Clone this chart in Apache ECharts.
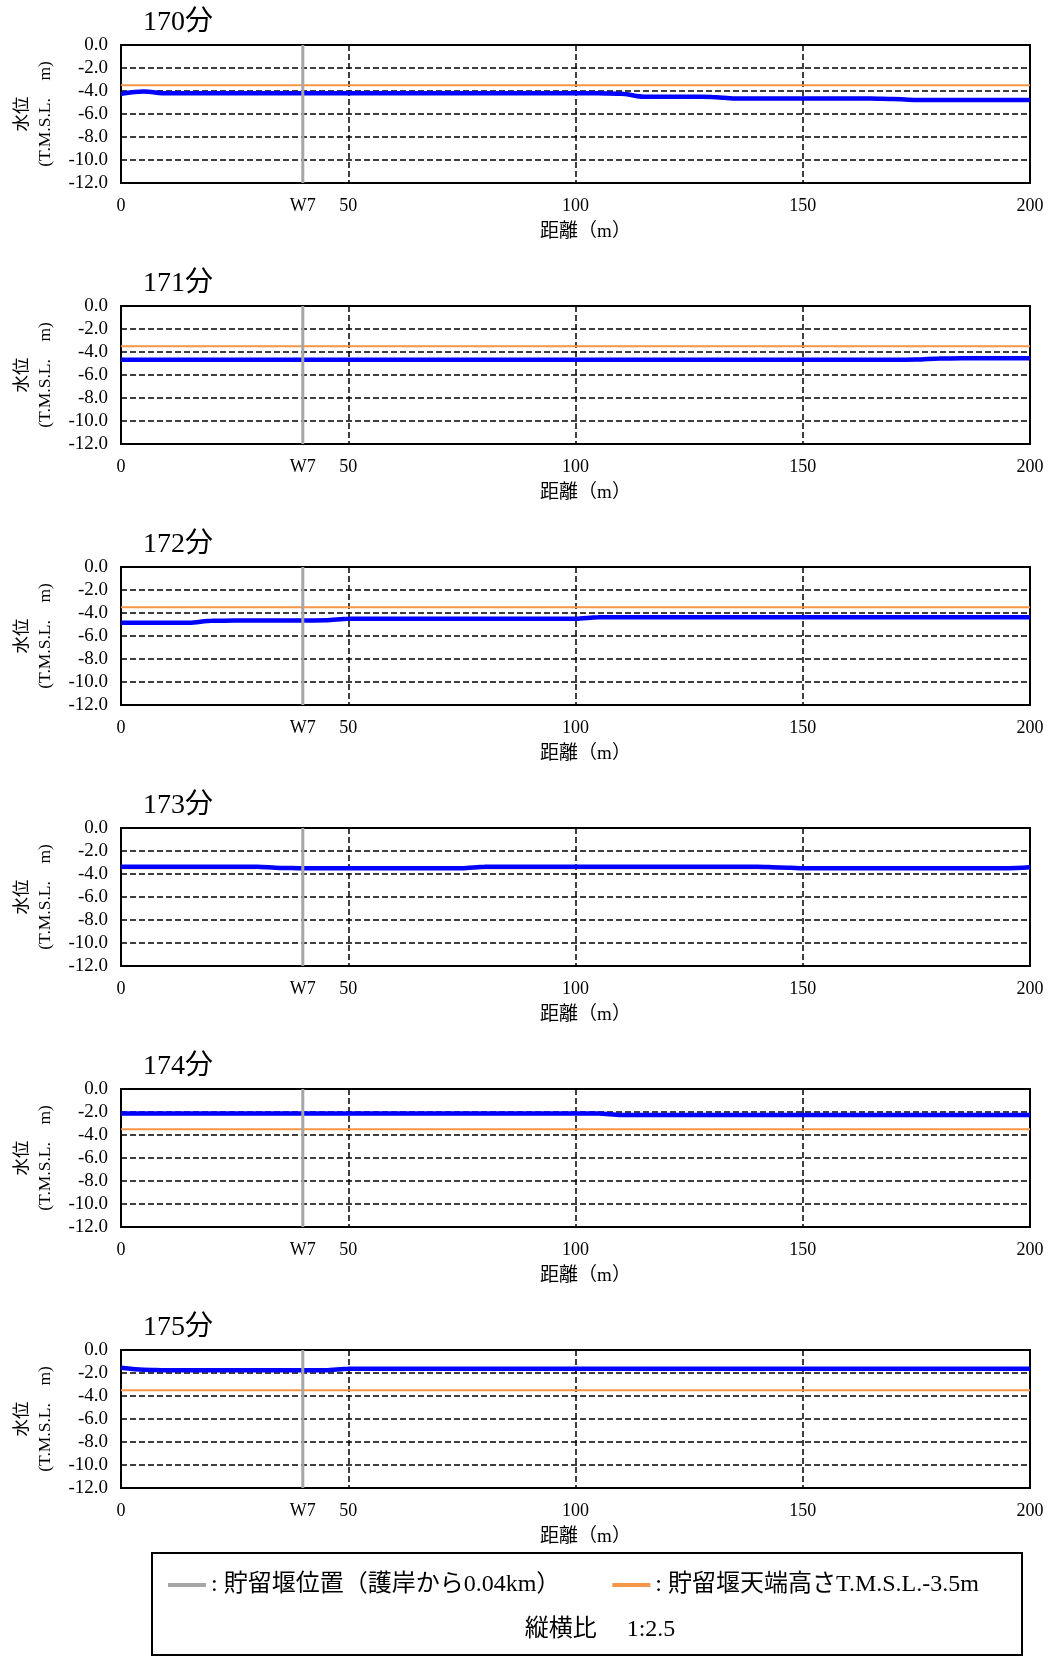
<!DOCTYPE html>
<html><head><meta charset="utf-8">
<script src="https://cdn.jsdelivr.net/npm/echarts@6/dist/echarts.min.js"></script>
<style>html,body{margin:0;padding:0;background:#fff}#c{width:1057px;height:1664px}</style>
</head><body><div id="c"></div>
<script>
const panelTitles = ['170分', '171分', '172分', '173分', '174分', '175分'];
const distance = [0,5,10,15,20,25,30,35,40,45,50,55,60,65,70,75,80,85,90,95,100,105,110,115,120,125,130,135,140,145,150,155,160,165,170,175,180,185,190,195,200];
const level170 = [-4.25,-4.05,-4.2,-4.2,-4.2,-4.2,-4.2,-4.2,-4.2,-4.2,-4.2,-4.2,-4.2,-4.2,-4.2,-4.2,-4.2,-4.2,-4.2,-4.2,-4.2,-4.2,-4.24,-4.5,-4.5,-4.5,-4.52,-4.66,-4.66,-4.66,-4.66,-4.66,-4.66,-4.66,-4.7,-4.78,-4.78,-4.78,-4.78,-4.78,-4.78];
const level171 = [-4.68,-4.68,-4.68,-4.68,-4.68,-4.68,-4.68,-4.68,-4.68,-4.68,-4.68,-4.68,-4.68,-4.68,-4.68,-4.68,-4.68,-4.68,-4.68,-4.68,-4.68,-4.68,-4.68,-4.68,-4.68,-4.68,-4.68,-4.68,-4.68,-4.68,-4.68,-4.68,-4.68,-4.68,-4.68,-4.66,-4.56,-4.55,-4.55,-4.55,-4.55];
const level172 = [-4.85,-4.85,-4.85,-4.85,-4.68,-4.66,-4.66,-4.66,-4.66,-4.64,-4.51,-4.5,-4.5,-4.5,-4.5,-4.5,-4.5,-4.5,-4.5,-4.5,-4.5,-4.38,-4.37,-4.37,-4.37,-4.37,-4.37,-4.37,-4.37,-4.37,-4.37,-4.37,-4.37,-4.37,-4.37,-4.37,-4.37,-4.37,-4.37,-4.37,-4.37];
const level173 = [-3.36,-3.36,-3.36,-3.36,-3.36,-3.36,-3.36,-3.47,-3.5,-3.5,-3.5,-3.5,-3.5,-3.5,-3.5,-3.5,-3.37,-3.36,-3.36,-3.36,-3.36,-3.36,-3.36,-3.36,-3.36,-3.36,-3.36,-3.36,-3.36,-3.43,-3.5,-3.5,-3.5,-3.5,-3.5,-3.5,-3.5,-3.5,-3.5,-3.5,-3.42];
const level174 = [-2.12,-2.12,-2.12,-2.12,-2.12,-2.12,-2.12,-2.12,-2.12,-2.12,-2.12,-2.12,-2.12,-2.12,-2.12,-2.12,-2.12,-2.12,-2.12,-2.12,-2.12,-2.13,-2.25,-2.26,-2.26,-2.26,-2.26,-2.26,-2.26,-2.26,-2.26,-2.26,-2.26,-2.26,-2.26,-2.26,-2.26,-2.26,-2.26,-2.26,-2.26];
const level175 = [-1.55,-1.72,-1.76,-1.76,-1.76,-1.76,-1.76,-1.76,-1.76,-1.75,-1.63,-1.62,-1.62,-1.62,-1.62,-1.62,-1.62,-1.62,-1.62,-1.62,-1.62,-1.62,-1.62,-1.62,-1.62,-1.62,-1.62,-1.62,-1.62,-1.62,-1.62,-1.62,-1.62,-1.62,-1.62,-1.62,-1.62,-1.62,-1.62,-1.62,-1.62];
const levels = [level170, level171, level172, level173, level174, level175];
const weirTop = -3.5;
const weirPos = 40;
const xRange = [0, 200];
const yRange = [-12, 0];
const xTickValues = [0, 40, 50, 100, 150, 200];
const xTickLabels = ['0', 'W7', '50', '100', '150', '200'];
const weirPosName = '貯留堰位置（護岸から0.04km）';
const weirTopName = '貯留堰天端高さT.M.S.L.-3.5m';
const ratioText = '縦横比　 1:2.5';

const FONT = '"Liberation Serif", "Noto Sans CJK JP", serif';
const chart = echarts.init(document.getElementById('c'), null, {renderer: 'canvas'});
const grids = [], xAxes = [], yAxes = [], series = [], titles = [];
const STEP = 261, TOP0 = 45, PH = 138;
const dashed = {color: '#000', type: [6, 3], width: 1.5};
for (let i = 0; i < panelTitles.length; i++) {
  const top = TOP0 + STEP * i;
  titles.push({text: panelTitles[i], left: 143, top: top - 36, padding: 0,
    textStyle: {fontSize: 28, fontWeight: 'normal', color: '#000', fontFamily: FONT}});
  grids.push({left: 121, top: top, width: 909, height: PH, show: true,
    borderColor: '#000', borderWidth: 2, containLabel: false, outerBoundsMode: 'none'});
  xAxes.push({type: 'value', gridIndex: i, min: xRange[0], max: xRange[1], interval: 50,
    axisLine: {show: false}, axisTick: {show: false},
    splitLine: {show: true, lineStyle: dashed},
    axisLabel: {customValues: xTickValues, formatter: v => xTickLabels[xTickValues.indexOf(v)],
      margin: 14, fontSize: 18, color: '#000', fontFamily: FONT},
    name: '距離（m）', nameLocation: 'middle', nameGap: 40,
    nameTextStyle: {fontSize: 19, color: '#000', fontFamily: FONT, padding: [0, 0, 0, 20]}});
  yAxes.push({type: 'value', gridIndex: i, min: yRange[0], max: yRange[1], interval: 2,
    axisLine: {show: false}, axisTick: {show: false},
    splitLine: {show: true, lineStyle: dashed},
    axisLabel: {formatter: v => v.toFixed(1), margin: 13, fontSize: 19, color: '#000', fontFamily: FONT},
    name: '水位\n(T.M.S.L.　m)', nameLocation: 'middle', nameRotate: 90, nameGap: 64,
    nameTextStyle: {fontSize: 17.5, lineHeight: 23, color: '#000', fontFamily: FONT, align: 'center'}});
  series.push({name: weirTopName, type: 'line', xAxisIndex: i, yAxisIndex: i, showSymbol: false, symbol: 'none',
    data: [[xRange[0], weirTop], [xRange[1], weirTop]], lineStyle: {color: '#F79646', width: 2}, itemStyle: {color: '#F79646'}, z: 3, silent: true});
  series.push({name: '水位', type: 'line', xAxisIndex: i, yAxisIndex: i, showSymbol: false, symbol: 'none',
    smooth: 0.3, smoothMonotone: 'x',
    data: distance.map((d, j) => [d, levels[i][j]]), lineStyle: {color: '#0000FF', width: 4.5}, itemStyle: {color: '#0000FF'}, z: 4});
  series.push({name: weirPosName, type: 'line', xAxisIndex: i, yAxisIndex: i, showSymbol: false, symbol: 'none',
    data: [[weirPos, yRange[1]], [weirPos, yRange[0]]], lineStyle: {color: '#A6A6A6', width: 3}, itemStyle: {color: '#A6A6A6'}, z: 5, silent: true});
}
chart.setOption({
  animation: false,
  backgroundColor: '#fff',
  title: titles,
  grid: grids, xAxis: xAxes, yAxis: yAxes, series: series,
  legend: {data: [weirPosName, weirTopName], left: 168, top: 1573, padding: 0, orient: 'horizontal',
    icon: 'rect', itemWidth: 38, itemHeight: 4, itemGap: 52, selectedMode: false,
    formatter: n => ': ' + n,
    textStyle: {fontSize: 24, color: '#000', fontFamily: FONT}},
  graphic: [
    {type: 'rect', shape: {x: 152, y: 1553, width: 870, height: 102}, style: {fill: 'none', stroke: '#000', lineWidth: 2}, z: -1},
    {type: 'text', x: 600, y: 1630, style: {text: ratioText, fontSize: 24, fontFamily: FONT, fill: '#000', align: 'center', verticalAlign: 'middle'}}
  ]
});
</script></body></html>
